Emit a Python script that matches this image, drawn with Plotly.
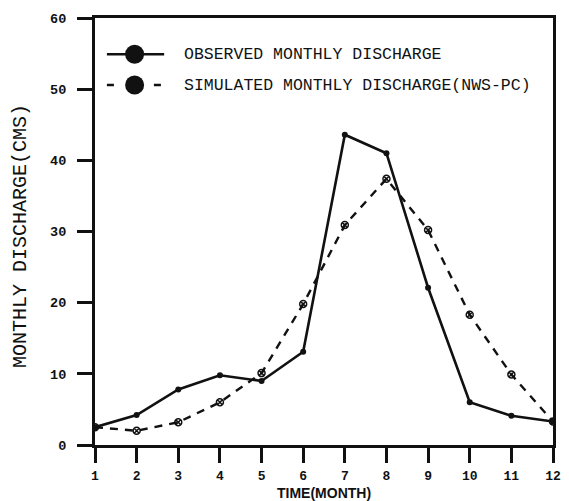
import plotly.graph_objects as go

# Monthly discharge (CMS), months 1-12
months = [1, 2, 3, 4, 5, 6, 7, 8, 9, 10, 11, 12]
observed = [2.5, 4.2, 7.8, 9.8, 9.0, 13.1, 43.6, 41.0, 22.1, 6.0, 4.1, 3.3]
simulated = [2.5, 2.0, 3.2, 6.0, 10.1, 19.8, 30.9, 37.4, 30.2, 18.3, 9.9, 3.3]

x_ticks = list(range(1, 13))
y_ticks = [0, 10, 20, 30, 40, 50, 60]

legend_labels = ["OBSERVED MONTHLY DISCHARGE", "SIMULATED MONTHLY DISCHARGE(NWS-PC)"]

MONO = "Liberation Mono, Courier New, monospace"
SANS = "Liberation Sans, Arial, sans-serif"
INK = "#111111"

fig = go.Figure()

fig.add_trace(go.Scatter(
    x=months, y=simulated, mode="lines+markers",
    line=dict(color=INK, width=2.4, dash="8px,7px"),
    marker=dict(symbol="circle-x-open", size=7, color=INK, line=dict(width=1.5)),
    showlegend=False,
))
fig.add_trace(go.Scatter(
    x=months, y=observed, mode="lines+markers",
    line=dict(color=INK, width=2.6),
    marker=dict(symbol="circle", size=6, color=INK),
    showlegend=False,
))

# Legend keys drawn on an overlay axis spanning the plot area (0..1)
key_y = [0.915, 0.843]
fig.add_trace(go.Scatter(
    x=[0.026, 0.151], y=[key_y[0], key_y[0]], mode="lines",
    line=dict(color=INK, width=2.6), xaxis="x2", yaxis="y2", showlegend=False,
))
fig.add_trace(go.Scatter(
    x=[0.026, 0.151], y=[key_y[1], key_y[1]], mode="lines",
    line=dict(color=INK, width=2.4, dash="7px,40px"), xaxis="x2", yaxis="y2", showlegend=False,
))
fig.add_trace(go.Scatter(
    x=[0.0865, 0.0865], y=key_y, mode="markers",
    marker=dict(symbol="circle", size=19, color=INK), xaxis="x2", yaxis="y2", showlegend=False,
))
for yy, label in zip(key_y, legend_labels):
    fig.add_annotation(
        x=0.19, y=yy, xref="x2", yref="y2", text=label, showarrow=False,
        xanchor="left", yanchor="middle",
        font=dict(family=MONO, size=16.5, color=INK),
    )

fig.update_layout(
    width=569, height=501,
    margin=dict(l=95, r=8, t=18, b=56),
    paper_bgcolor="white", plot_bgcolor="white",
    xaxis=dict(
        range=[1, 12], tickvals=x_ticks, showgrid=False, zeroline=False,
        showline=True, mirror=True, linecolor=INK, linewidth=3,
        ticks="outside", ticklen=15, tickwidth=3, tickcolor=INK,
        ticklabelstandoff=1,
        tickfont=dict(family=MONO, size=13, color=INK, weight="bold"),
    ),
    yaxis=dict(
        range=[0, 60], tickvals=y_ticks, showgrid=False, zeroline=False,
        showline=True, mirror=True, linecolor=INK, linewidth=3,
        ticks="outside", ticklen=15, tickwidth=3, tickcolor=INK,
        ticklabelstandoff=8,
        tickfont=dict(family=MONO, size=13.5, color=INK, weight="bold"),
    ),
    xaxis2=dict(range=[0, 1], overlaying="x", visible=False, fixedrange=True),
    yaxis2=dict(range=[0, 1], overlaying="y", visible=False, fixedrange=True),
    annotations=list(fig.layout.annotations) + [
        dict(text="MONTHLY DISCHARGE(CMS)", xref="paper", yref="paper",
             x=-0.163, y=0.49, textangle=-90, showarrow=False,
             xanchor="center", yanchor="middle",
             font=dict(family=MONO, size=20, color=INK)),
        dict(text="TIME(MONTH)", xref="paper", yref="paper",
             x=0.5, y=-0.112, showarrow=False, xanchor="center", yanchor="middle",
             font=dict(family=SANS, size=14, color=INK, weight="bold")),
    ],
)

fig.write_html("out.html")
